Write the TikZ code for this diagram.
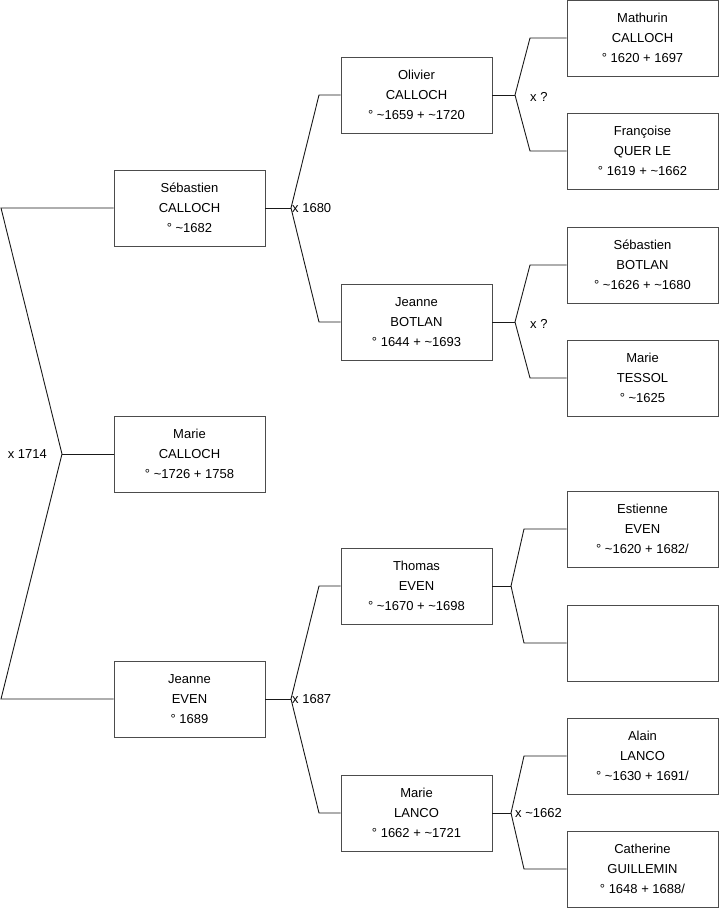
\documentclass[tikz,border=0pt]{standalone}
\usepackage{fontspec}
\setmainfont{Liberation Sans}
\usepackage{tikz}

\begin{document}
\begin{tikzpicture}[x=1pt, y=-1pt,
    person/.style={draw=black!70, line width=0.9pt, rectangle, minimum width=151pt, minimum height=76pt, align=center, inner sep=0pt, font=\fontsize{13}{20}\selectfont},
    link/.style={draw=black!90, line width=0.9pt},
    wed/.style={font=\fontsize{13}{16}\selectfont, inner sep=1pt}]
  \useasboundingbox (0,0) rectangle (719,908);

  % generation 0 and 1
  \node[person] (marie) at (189.5,454) {Marie\\CALLOCH\\° \textasciitilde1726 + 1758};
  \node[person] (sebastien) at (189.5,208) {Sébastien\\CALLOCH\\° \textasciitilde1682};
  \node[person] (jeanne) at (189.5,699) {Jeanne\\EVEN\\° 1689};

  % generation 2
  \node[person] (olivier) at (416.5,95) {Olivier\\CALLOCH\\° \textasciitilde1659 + \textasciitilde1720};
  \node[person] (botlan) at (416.5,322) {Jeanne\\BOTLAN\\° 1644 + \textasciitilde1693};
  \node[person] (thomas) at (416.5,586) {Thomas\\EVEN\\° \textasciitilde1670 + \textasciitilde1698};
  \node[person] (lanco) at (416.5,813) {Marie\\LANCO\\° 1662 + \textasciitilde1721};

  % generation 3
  \node[person] (mathurin) at (642.5,38) {Mathurin\\CALLOCH\\° 1620 + 1697};
  \node[person] (francoise) at (642.5,151) {Françoise\\QUER LE\\° 1619 + \textasciitilde1662};
  \node[person] (sbotlan) at (642.5,265) {Sébastien\\BOTLAN\\° \textasciitilde1626 + \textasciitilde1680};
  \node[person] (tessol) at (642.5,378) {Marie\\TESSOL\\° \textasciitilde1625};
  \node[person] (estienne) at (642.5,529) {Estienne\\EVEN\\° \textasciitilde1620 + 1682/};
  \node[person] (unknown) at (642.5,643) {};
  \node[person] (alain) at (642.5,756) {Alain\\LANCO\\° \textasciitilde1630 + 1691/};
  \node[person] (catherine) at (642.5,869) {Catherine\\GUILLEMIN\\° 1648 + 1688/};

  % marriage points
  \coordinate (m0) at (62,454);
  \coordinate (m0a) at (1,208);
  \coordinate (m0b) at (1,699);
  \coordinate (m1) at (291,208);
  \coordinate (m1a) at (319,95);
  \coordinate (m1b) at (319,322);
  \coordinate (m2) at (291,699);
  \coordinate (m2a) at (319,586);
  \coordinate (m2b) at (319,813);
  \coordinate (m3) at (515,95);
  \coordinate (m3a) at (530,38);
  \coordinate (m3b) at (530,151);
  \coordinate (m4) at (515,322);
  \coordinate (m4a) at (530,265);
  \coordinate (m4b) at (530,378);
  \coordinate (m5) at (511,586);
  \coordinate (m5a) at (524,529);
  \coordinate (m5b) at (524,643);
  \coordinate (m6) at (511,813);
  \coordinate (m6a) at (524,756);
  \coordinate (m6b) at (524,869);

  \draw[link] (marie.west) -- (m0);
  \draw[link] (m0) -- (m0a) -- (sebastien.west);
  \draw[link] (m0) -- (m0b) -- (jeanne.west);
  \node[wed, anchor=east] (w0) at ([xshift=-14pt]m0) {x 1714};

  \draw[link] (sebastien.east) -- (m1);
  \draw[link] (m1) -- (m1a) -- (olivier.west);
  \draw[link] (m1) -- (m1b) -- (botlan.west);
  \node[wed, anchor=west] (w1) at (m1) {x 1680};

  \draw[link] (jeanne.east) -- (m2);
  \draw[link] (m2) -- (m2a) -- (thomas.west);
  \draw[link] (m2) -- (m2b) -- (lanco.west);
  \node[wed, anchor=west] (w2) at (m2) {x 1687};

  \draw[link] (olivier.east) -- (m3);
  \draw[link] (m3) -- (m3a) -- (mathurin.west);
  \draw[link] (m3) -- (m3b) -- (francoise.west);
  \node[wed, anchor=west] (w3) at ([xshift=14pt,yshift=-2pt]m3) {x ?};

  \draw[link] (botlan.east) -- (m4);
  \draw[link] (m4) -- (m4a) -- (sbotlan.west);
  \draw[link] (m4) -- (m4b) -- (tessol.west);
  \node[wed, anchor=west] (w4) at ([xshift=14pt,yshift=-2pt]m4) {x ?};

  \draw[link] (thomas.east) -- (m5);
  \draw[link] (m5) -- (m5a) -- (estienne.west);
  \draw[link] (m5) -- (m5b) -- (unknown.west);

  \draw[link] (lanco.east) -- (m6);
  \draw[link] (m6) -- (m6a) -- (alain.west);
  \draw[link] (m6) -- (m6b) -- (catherine.west);
  \node[wed, anchor=west] (w6) at ([xshift=3pt]m6) {x \textasciitilde1662};
\end{tikzpicture}
\end{document}
